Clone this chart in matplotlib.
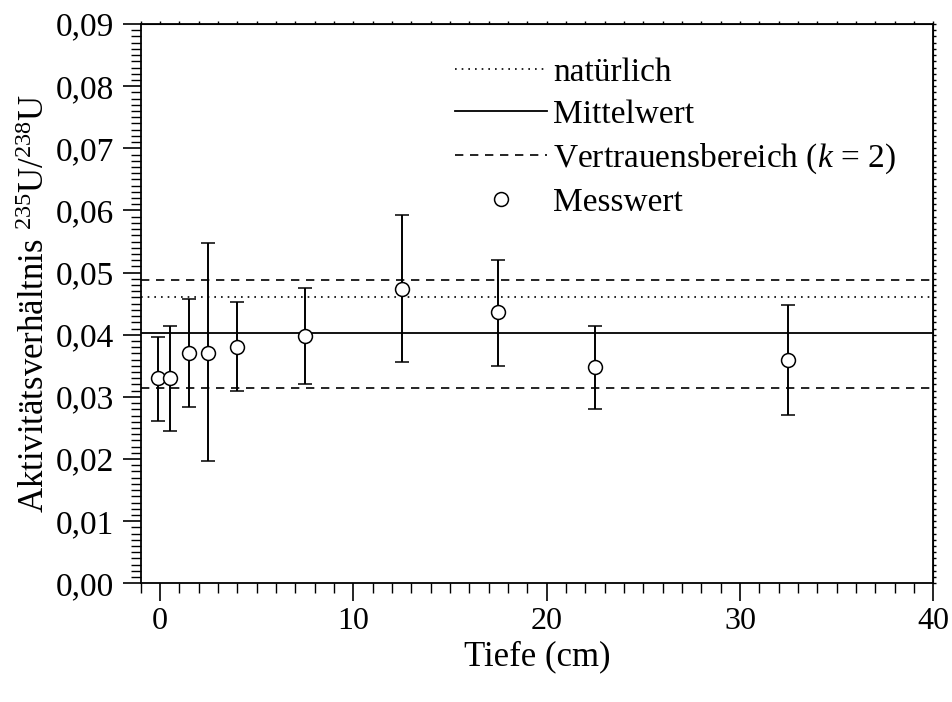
import matplotlib
matplotlib.use("Agg")
import matplotlib.pyplot as plt
from matplotlib.ticker import MultipleLocator, FuncFormatter
from matplotlib.lines import Line2D

plt.rcParams['font.family'] = ['Liberation Serif', 'DejaVu Serif']
plt.rcParams['mathtext.fontset'] = 'custom'
plt.rcParams['mathtext.rm'] = 'Liberation Serif'
plt.rcParams['mathtext.it'] = 'Liberation Serif:italic'

# Data
depth = [-0.1, 0.5, 1.5, 2.5, 4.0, 7.5, 12.5, 17.5, 22.5, 32.5]
ratio = [0.0330, 0.0330, 0.0370, 0.0371, 0.0381, 0.0398, 0.0474, 0.0436, 0.0348, 0.0359]
err_low = [0.0069, 0.0085, 0.0087, 0.0175, 0.0071, 0.0078, 0.0118, 0.0086, 0.0068, 0.0088]
err_high = [0.0067, 0.0084, 0.0088, 0.0176, 0.0071, 0.0077, 0.0118, 0.0085, 0.0066, 0.0089]
natural = 0.0461
mean = 0.0402
conf_low = 0.0315
conf_high = 0.0488

fig = plt.figure(figsize=(9.52, 7.02), dpi=100)
ax = fig.add_axes([0.1478, 0.1691, 0.9804 - 0.1478, 0.9658 - 0.1691])

ax.axhline(natural, color='black', lw=1.2, ls=(0, (1, 3)))
ax.axhline(mean, color='black', lw=1.3, ls='-')
ax.axhline(conf_high, color='black', lw=1.2, ls=(0, (5, 4)))
ax.axhline(conf_low, color='black', lw=1.2, ls=(0, (5, 4)))
ax.errorbar(depth, ratio, yerr=[err_low, err_high], fmt='o', ms=10,
            mfc='white', mec='black', mew=1.1, ecolor='black', elinewidth=1.4,
            capsize=5, capthick=1.4, zorder=5)

ax.set_xlim(-1, 40)
ax.set_ylim(0, 0.09)
ax.xaxis.set_major_locator(MultipleLocator(10))
ax.xaxis.set_minor_locator(MultipleLocator(1))
ax.yaxis.set_major_locator(MultipleLocator(0.01))
ax.yaxis.set_minor_locator(MultipleLocator(0.001))
ax.yaxis.set_major_formatter(FuncFormatter(lambda v, p: f"{v:.2f}".replace('.', ',')))
ax.xaxis.set_major_formatter(FuncFormatter(lambda v, p: f"{v:.0f}"))

ax.tick_params(axis='both', which='major', direction='out', length=13, width=1.2,
               top=False, right=False)
ax.tick_params(axis='both', which='minor', direction='out', length=7, width=1.0,
               top=False, right=False)
ax.tick_params(axis='x', which='major', pad=4, labelsize=23)
ax.tick_params(axis='y', which='major', pad=6, labelsize=24)

# small ticks on top/right
axt = ax.secondary_xaxis('top')
axt.xaxis.set_major_locator(MultipleLocator(1))
axt.tick_params(direction='out', length=2.5, width=1.0, labeltop=False)
axr = ax.secondary_yaxis('right')
axr.yaxis.set_major_locator(MultipleLocator(0.001))
axr.tick_params(direction='out', length=2.5, width=1.0, labelright=False)

for s in ax.spines.values():
    s.set_linewidth(1.3)

ax.set_xlabel('Tiefe (cm)', fontsize=25, labelpad=3)
ax.set_ylabel(r'Aktivitätsverhältnis $^{235}$U/$^{238}$U', fontsize=25, labelpad=3)

handles = [
    Line2D([], [], color='black', lw=1.2, ls=(0, (1, 3))),
    Line2D([], [], color='black', lw=1.3, ls='-'),
    Line2D([], [], color='black', lw=1.2, ls=(0, (5, 4))),
    Line2D([], [], ls='none', marker='o', ms=10, mfc='white', mec='black', mew=1.1),
]
labels = ['natürlich', 'Mittelwert', r'Vertrauensbereich ($k$ = 2)', 'Messwert']
ax.legend(handles, labels, loc='upper left', bbox_to_anchor=(0.3966, 0.941),
          frameon=False, fontsize=24, handlelength=2.75, handletextpad=0.2,
          labelspacing=0.35, borderaxespad=0, borderpad=0)

fig.savefig('out.png', dpi=100)
